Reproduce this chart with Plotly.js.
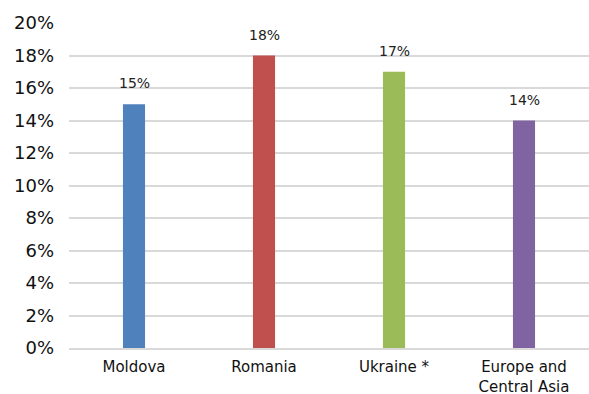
<!DOCTYPE html>
<html>
<head>
<meta charset="utf-8">
<script src="https://cdn.plot.ly/plotly-3.0.1.min.js"></script>
<style>
  html, body { margin: 0; padding: 0; background: #ffffff; }
  #chart { width: 589px; height: 394px; }
</style>
</head>
<body>
<div id="chart"></div>
<script>
// Share by country / region, in percent
const categories = ['Moldova', 'Romania', 'Ukraine *', 'Europe and<br>Central Asia'];
const values = [15, 18, 17, 14];
const barColors = ['#4F81BD', '#C0504D', '#9BBB59', '#8064A2'];
const yTickValues = [0, 2, 4, 6, 8, 10, 12, 14, 16, 18, 20];
const yTickLabels = yTickValues.map(v => v + '%');

const FONT = 'DejaVu Sans, sans-serif';

const trace = {
  type: 'bar',
  x: categories,
  y: values,
  width: 0.17,
  marker: { color: barColors },
  hoverinfo: 'none'
};

const labels = categories.map((c, i) => ({
  x: c,
  y: values[i],
  xref: 'x',
  yref: 'y',
  text: values[i] + '%',
  showarrow: false,
  yanchor: 'bottom',
  yshift: 11,
  font: { family: FONT, size: 14, color: '#222222' }
}));

const layout = {
  width: 589,
  height: 394,
  margin: { l: 69, r: 0, t: 23, b: 46, pad: 0 },
  paper_bgcolor: '#ffffff',
  plot_bgcolor: '#ffffff',
  showlegend: false,
  xaxis: {
    type: 'category',
    showgrid: false,
    showline: true,
    linecolor: '#d9d9d9',
    linewidth: 2,
    ticks: '',
    ticklabelstandoff: 4,
    tickfont: { family: FONT, size: 15, color: '#111111' },
    fixedrange: true
  },
  yaxis: {
    range: [0, 20],
    tickvals: yTickValues,
    ticktext: yTickLabels,
    showgrid: true,
    gridcolor: '#d9d9d9',
    gridwidth: 2,
    zeroline: false,
    showline: false,
    ticks: '',
    ticklabelstandoff: 14,
    tickfont: { family: FONT, size: 18, color: '#111111' },
    fixedrange: true
  },
  annotations: labels
};

Plotly.newPlot('chart', [trace], layout, { displayModeBar: false, staticPlot: true });
</script>
</body>
</html>
